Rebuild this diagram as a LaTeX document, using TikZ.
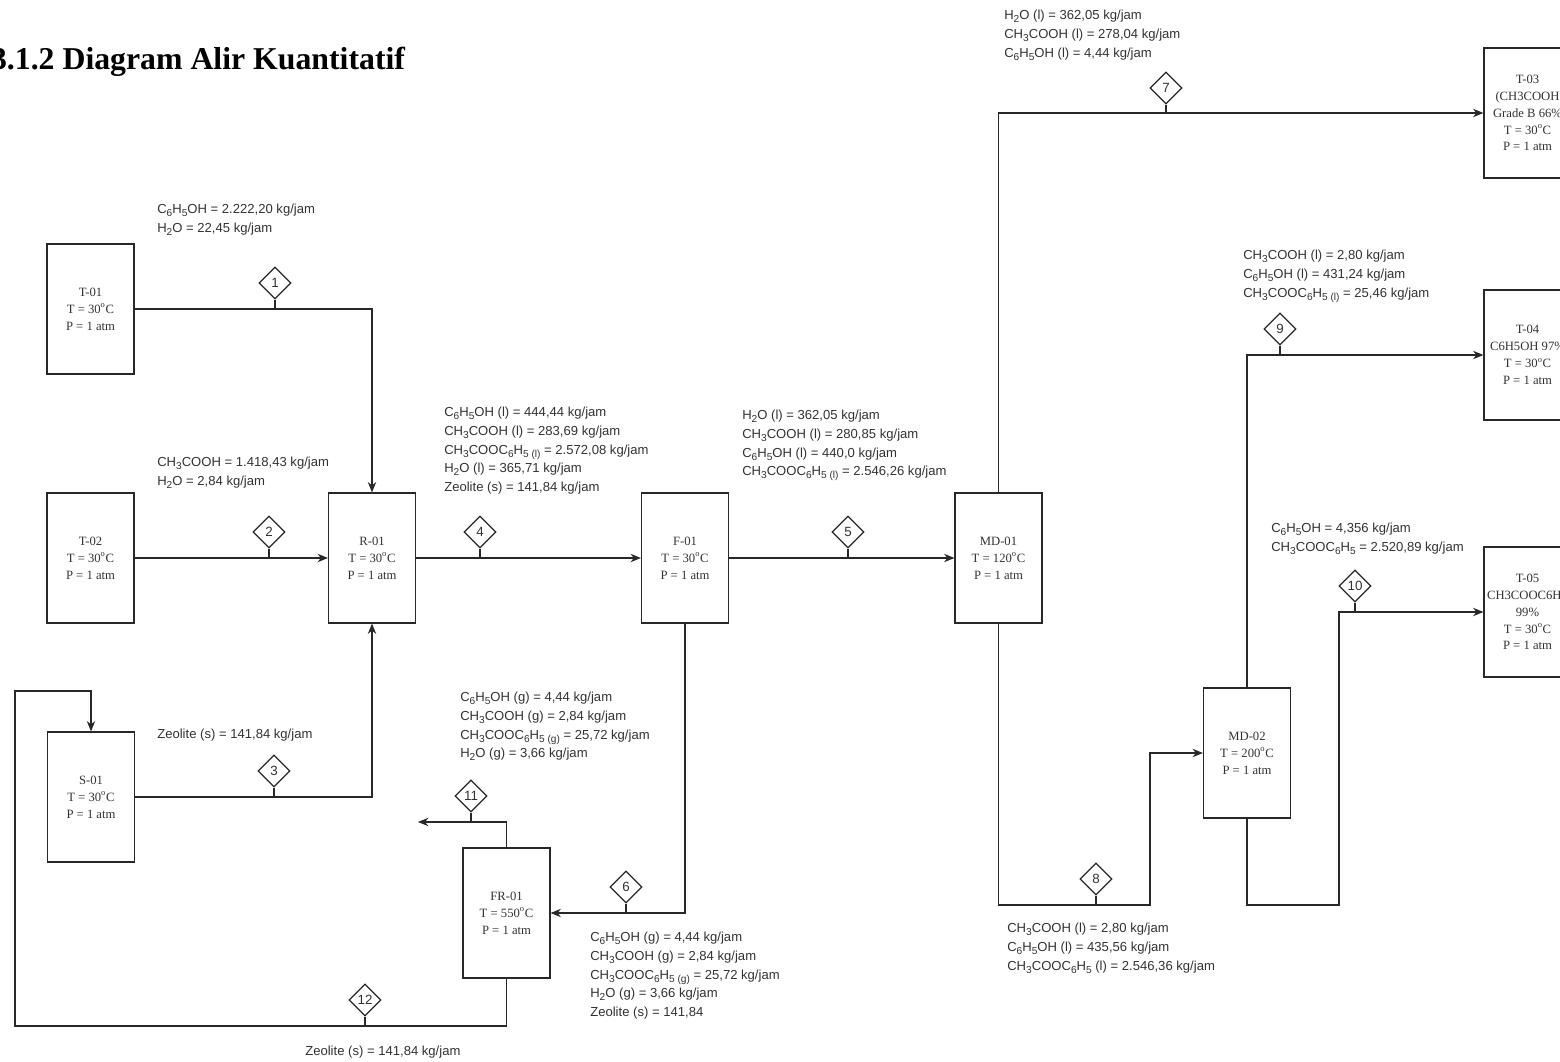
\documentclass[tikz,border=0pt]{standalone}
\usepackage{fontspec}
\setmainfont{Liberation Serif}
\newfontfamily\arialfont{Liberation Sans}
\usepackage{tikz}
\usetikzlibrary{arrows,arrows.meta,shapes,calc,positioning}
\definecolor{garis}{RGB}{40,40,40}
\definecolor{tulisan}{RGB}{50,50,50}
\newcommand{\sbs}[1]{\raisebox{-0.45ex}{\fontsize{7.2}{8}\selectfont #1}}
\newcommand{\dgr}{\textsuperscript{o}}
\tikzstyle{edge}  =[line width=0.8pt, draw=garis,
                    >={Stealth[length=2.6mm,width=2.1mm]}]
\tikzstyle{unit}  =[rectangle, draw=garis, line width=0.8pt,
                    minimum width=2.175cm, minimum height=3.25cm,
                    inner sep=1pt, align=center, text=tulisan,
                    font=\fontsize{9}{12}\selectfont]
\tikzstyle{stream}=[diamond, draw=garis, line width=0.8pt,
                    minimum width=0.8cm, minimum height=0.8cm,
                    inner sep=0pt, text=tulisan,
                    font=\arialfont\fontsize{9.5}{10}\selectfont]
\tikzstyle{info}  =[anchor=north west, inner sep=0pt, align=left,
                    text=tulisan, font=\arialfont\fontsize{9.3}{13.3}\selectfont]

\begin{document}
\begin{tikzpicture}[x=0.025cm,y=-0.025cm]
    \useasboundingbox (0,0) rectangle (1560,1062);

    \draw (410,70) node(title)[anchor=base east,font=\bfseries\fontsize{22.6}{26}\selectfont]
        {3.1.2 Diagram Alir Kuantitatif};

    % alat
    \draw (90.5,309) node(t01)[unit]{T-01\\T = 30\dgr C\\P = 1 atm};
    \draw (90.5,558) node(t02)[unit]{T-02\\T = 30\dgr C\\P = 1 atm};
    \draw (91,797) node(s01)[unit]{S-01\\T = 30\dgr C\\P = 1 atm};
    \draw (372,558) node(r01)[unit]{R-01\\T = 30\dgr C\\P = 1 atm};
    \draw (685,558) node(f01)[unit]{F-01\\T = 30\dgr C\\P = 1 atm};
    \draw (506.5,913) node(fr01)[unit]{FR-01\\T = 550\dgr C\\P = 1 atm};
    \draw (998.5,558) node(md01)[unit]{MD-01\\T = 120\dgr C\\P = 1 atm};
    \draw (1247,753) node(md02)[unit]{MD-02\\T = 200\dgr C\\P = 1 atm};
    \draw (1527.5,113) node(t03)[unit]{T-03\\(CH3COOH\\Grade B 66\%\\T = 30\dgr C\\P = 1 atm};
    \draw (1527.5,355) node(t04)[unit]{T-04\\C6H5OH 97\%\\T = 30\dgr C\\P = 1 atm};
    \draw (1527.5,612) node(t05)[unit]{T-05\\CH3COOC6H5\\99\%\\T = 30\dgr C\\P = 1 atm};

    \coordinate (o11) at (418,822);
    \coordinate (c12a) at (15,1026);
    \coordinate (c12b) at (15,691);
    \coordinate (c8) at (1150,905);
    \coordinate (c10) at (1339,905);

    % aliran
    \draw [edge,->] (t01.east) -| (r01.north);
    \draw [edge,->] (t02.east) -- (r01.west);
    \draw [edge,->] (s01.east) -| (r01.south);
    \draw [edge,->] (r01.east) -- (f01.west);
    \draw [edge,->] (f01.east) -- (md01.west);
    \draw [edge,->] (f01.south) |- (fr01.east);
    \draw [edge,->] (fr01.north) |- (o11);
    \draw [edge,->] (fr01.south) |- (c12a) -- (c12b) -| (s01.north);
    \draw [edge,->] (md01.north) |- (t03.west);
    \draw [edge,->] (md01.south) |- (c8) |- (md02.west);
    \draw [edge,->] (md02.north) |- (t04.west);
    \draw [edge,->] (md02.south) |- (c10) |- (t05.west);

    % nomor arus
    \foreach \n/\x/\y in {1/275/309,2/269/558,3/274/797,4/480/558,5/848/558,
        6/626/913,7/1166/114,8/1096/905,9/1280/355,10/1355/612,11/471/822,12/365/1026}
    {
        \coordinate (j\n) at (\x,\y);
        \draw (\x,\y-26) node(d\n)[stream]{\n};
        \draw [edge] (d\n.south) -- (j\n);
    }

    % komposisi
    \draw (157,204) node(k1)[info]{C\sbs{6}H\sbs{5}OH = 2.222,20 kg/jam\\
        H\sbs{2}O = 22,45 kg/jam};
    \draw (157,457) node(k2)[info]{CH\sbs{3}COOH = 1.418,43 kg/jam\\
        H\sbs{2}O = 2,84 kg/jam};
    \draw (157,729) node(k3)[info]{Zeolite (s) = 141,84 kg/jam};
    \draw (444,407) node(k4)[info]{C\sbs{6}H\sbs{5}OH (l) = 444,44 kg/jam\\
        CH\sbs{3}COOH (l) = 283,69 kg/jam\\
        CH\sbs{3}COOC\sbs{6}H\sbs{5 (l)} = 2.572,08 kg/jam\\
        H\sbs{2}O (l) = 365,71 kg/jam\\
        Zeolite (s) = 141,84 kg/jam};
    \draw (742,410) node(k5)[info]{H\sbs{2}O (l) = 362,05 kg/jam\\
        CH\sbs{3}COOH (l) = 280,85 kg/jam\\
        C\sbs{6}H\sbs{5}OH (l) = 440,0 kg/jam\\
        CH\sbs{3}COOC\sbs{6}H\sbs{5 (l)} = 2.546,26 kg/jam};
    \draw (590,932) node(k6)[info]{C\sbs{6}H\sbs{5}OH (g) = 4,44 kg/jam\\
        CH\sbs{3}COOH (g) = 2,84 kg/jam\\
        CH\sbs{3}COOC\sbs{6}H\sbs{5 (g)} = 25,72 kg/jam\\
        H\sbs{2}O (g) = 3,66 kg/jam\\
        Zeolite (s) = 141,84};
    \draw (1004,10) node(k7)[info]{H\sbs{2}O (l) = 362,05 kg/jam\\
        CH\sbs{3}COOH (l) = 278,04 kg/jam\\
        C\sbs{6}H\sbs{5}OH (l) = 4,44 kg/jam};
    \draw (1007,923) node(k8)[info]{CH\sbs{3}COOH (l) = 2,80 kg/jam\\
        C\sbs{6}H\sbs{5}OH (l) = 435,56 kg/jam\\
        CH\sbs{3}COOC\sbs{6}H\sbs{5} (l) = 2.546,36 kg/jam};
    \draw (1243,250) node(k9)[info]{CH\sbs{3}COOH (l) = 2,80 kg/jam\\
        C\sbs{6}H\sbs{5}OH (l) = 431,24 kg/jam\\
        CH\sbs{3}COOC\sbs{6}H\sbs{5 (l)} = 25,46 kg/jam};
    \draw (1271,523) node(k10)[info]{C\sbs{6}H\sbs{5}OH = 4,356 kg/jam\\
        CH\sbs{3}COOC\sbs{6}H\sbs{5} = 2.520,89 kg/jam};
    \draw (460,692) node(k11)[info]{C\sbs{6}H\sbs{5}OH (g) = 4,44 kg/jam\\
        CH\sbs{3}COOH (g) = 2,84 kg/jam\\
        CH\sbs{3}COOC\sbs{6}H\sbs{5 (g)} = 25,72 kg/jam\\
        H\sbs{2}O (g) = 3,66 kg/jam};
    \draw (305,1046) node(k12)[info]{Zeolite (s) = 141,84 kg/jam};

\end{tikzpicture}
\end{document}
